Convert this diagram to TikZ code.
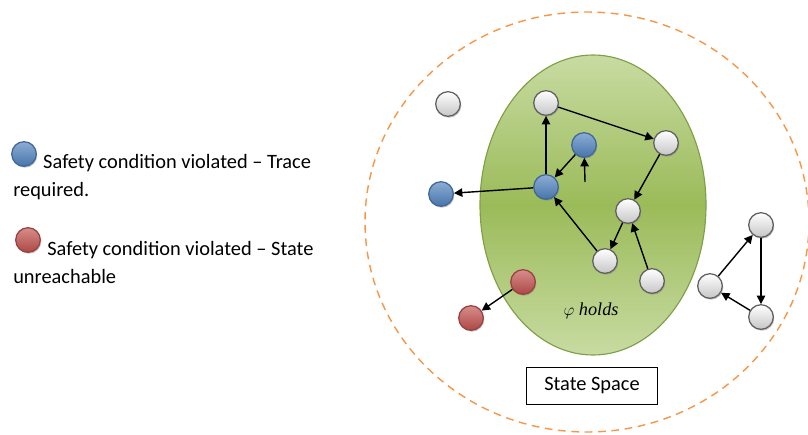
\documentclass[tikz,border=0pt]{standalone}
\usepackage{fontspec}
\setmainfont{Carlito}
\newfontfamily\holdsfont{Liberation Serif}
\usepackage{tikz}
\usetikzlibrary{calc,shadows,arrows.meta,positioning}
\definecolor{dashorange}{HTML}{F79646}
\definecolor{holdgreen}{HTML}{9BBB59}
\definecolor{holdlight}{HTML}{C8DBA2}
\definecolor{holdedge}{HTML}{7E9F46}
\definecolor{traceblue}{HTML}{4F81BD}
\definecolor{unreachred}{HTML}{C0504D}
\tikzstyle{arrow} = [line width=1pt,-{Triangle[length=6pt,width=6pt]}]
\tikzset{
  ball/.style={circle,minimum size=17.5pt,inner sep=0pt,line width=0.9pt,
    drop shadow={shadow xshift=0.7pt,shadow yshift=-1pt,opacity=0.45}},
  safe/.style={ball,draw=gray!75!black,top color=white,bottom color=gray!45},
  trace/.style={ball,draw=traceblue!80!black,top color=traceblue!65!white,bottom color=traceblue!90!black},
  unreach/.style={ball,draw=unreachred!80!black,top color=unreachred!65!white,bottom color=unreachred!90!black},
  legend/.style={align=left,anchor=base west,inner sep=0pt,
    font=\fontsize{14.5}{19.6}\selectfont}
}

\begin{document}
\begin{tikzpicture}[x=0.025cm,y=-0.025cm]
  \useasboundingbox (0,0) rectangle (808,434);
  % state space and the region where phi holds
  \draw[dashorange,line width=1pt,dash pattern=on 5.5pt off 4pt] (587,222) ellipse (222 and 210);
  \draw[holdedge,line width=0.8pt,top color=holdlight,bottom color=holdlight,middle color=holdgreen]
    (593,205) ellipse (113 and 150);
  \node[font=\holdsfont\fontsize{13}{15}\selectfont] (phi) at (591,311) {$\varphi$ \textit{holds}};
  \node[draw,line width=0.6pt,fill=white,minimum width=93pt,minimum height=26pt,
    font=\fontsize{14.5}{17}\selectfont] (space) at (592,386) {State Space};

  % legend
  \node[trace] (l_1) at (24,154) {};
  \node[legend] (t_1) at (13,196) {\hspace{21.3pt}Safety condition violated -- Trace\\required.};
  \node[unreach] (l_2) at (28,240) {};
  \node[legend] (t_2) at (13,283) {\hspace{24.2pt}Safety condition violated -- State\\unreachable};

  % states
  \node[safe] (s_1) at (448,104) {};
  \node[safe] (s_2) at (546,103) {};
  \node[safe] (s_3) at (666,143) {};
  \node[trace] (s_4) at (584,145) {};
  \node[trace] (s_5) at (546,187) {};
  \node[trace] (s_6) at (441,194) {};
  \node[safe] (s_7) at (628,211) {};
  \node[safe] (s_8) at (605,261) {};
  \node[safe] (s_9) at (652,281) {};
  \node[unreach] (s_10) at (523,282) {};
  \node[unreach] (s_11) at (471,318) {};
  \node[safe] (s_12) at (761,225) {};
  \node[safe] (s_13) at (710,286) {};
  \node[safe] (s_14) at (761,317) {};
  \coordinate (in_4) at (585,182);

  \path[arrow]
    (s_5) edge (s_2)
          edge (s_6)
    (s_2) edge (s_3)
    (s_3) edge (s_7)
    (s_7) edge (s_8)
    (s_8) edge (s_5)
    (s_9) edge (s_7)
    (s_4) edge (s_5)
    (in_4) edge (s_4)
    (s_10) edge (s_11)
    (s_13) edge (s_12)
    (s_12) edge (s_14)
    (s_14) edge (s_13);
\end{tikzpicture}
\end{document}
